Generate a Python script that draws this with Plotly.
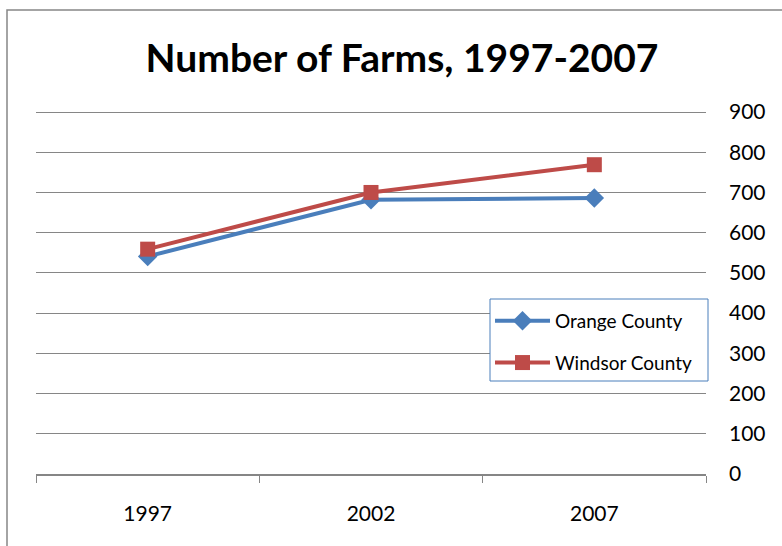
import plotly.graph_objects as go

years = ["1997", "2002", "2007"]
orange_county = [541, 682, 686]
windsor_county = [559, 700, 769]
y_ticks = [0, 100, 200, 300, 400, 500, 600, 700, 800, 900]

FONT = "Lato, 'Open Sans', sans-serif"
W, H = 782, 546
Y_MAX = 910  # a little headroom so the 900 gridline is drawn
L, R, B = 36, 706, 474  # plot area in pixels
T = round(B - 362 * Y_MAX / 900)


def px_x(p):
    return (p - L) / (R - L)


def px_y(p):
    return (B - p) / (B - T)


fig = go.Figure()
fig.add_trace(go.Scatter(
    x=years, y=orange_county, name="Orange County", mode="lines+markers",
    line=dict(color="#4A7EBB", width=4),
    marker=dict(symbol="diamond", size=15, color="#4A7EBB"),
    legendgroup="a",
))
fig.add_trace(go.Scatter(
    x=years, y=windsor_county, name="Windsor County", mode="lines+markers",
    line=dict(color="#BE4B48", width=4),
    marker=dict(symbol="square", size=15, color="#BE4B48"),
    legendgroup="b",
))

fig.update_layout(
    width=W, height=H,
    margin=dict(l=L, r=W - R, t=T, b=H - B),
    paper_bgcolor="white", plot_bgcolor="white",
    font=dict(family=FONT, size=21, color="black"),
    title=dict(text="<b>Number of Farms, 1997-2007</b>", x=402 / W, xref="container",
               xanchor="center", y=1 - 58 / H, yref="container", yanchor="middle",
               font=dict(family=FONT, size=39, color="black")),
    xaxis=dict(type="category", range=[-0.5, 2.5], showgrid=False,
               showline=True, linecolor="#868686", linewidth=1.5,
               ticks="outside", tickson="boundaries", ticklen=7, tickcolor="#868686",
               ticklabelstandoff=20, tickfont=dict(size=21)),
    yaxis=dict(side="right", range=[0, Y_MAX], tickvals=y_ticks, showgrid=True,
               gridcolor="#868686", gridwidth=1.2, zeroline=False, showline=False,
               ticks="", ticklabelstandoff=22, tickfont=dict(size=21)),
    legend=dict(x=px_x(490), y=px_y(302), xanchor="left", yanchor="top",
                borderwidth=0, bgcolor="rgba(0,0,0,0)",
                font=dict(size=19), tracegroupgap=14, traceorder="grouped",
                itemwidth=55),
    showlegend=True,
)

# legend box
fig.add_shape(type="rect", xref="paper", yref="paper",
              x0=px_x(490), x1=px_x(708), y0=px_y(381), y1=px_y(299),
              line=dict(color="#4A7EBB", width=1), fillcolor="white", layer="above")

# outer chart frame
fig.add_shape(type="rect", xref="paper", yref="paper",
              x0=px_x(7), x1=px_x(800), y0=px_y(560), y1=px_y(10),
              line=dict(color="#868686", width=1.5), fillcolor="rgba(0,0,0,0)",
              layer="below")

fig.write_html("out.html")
